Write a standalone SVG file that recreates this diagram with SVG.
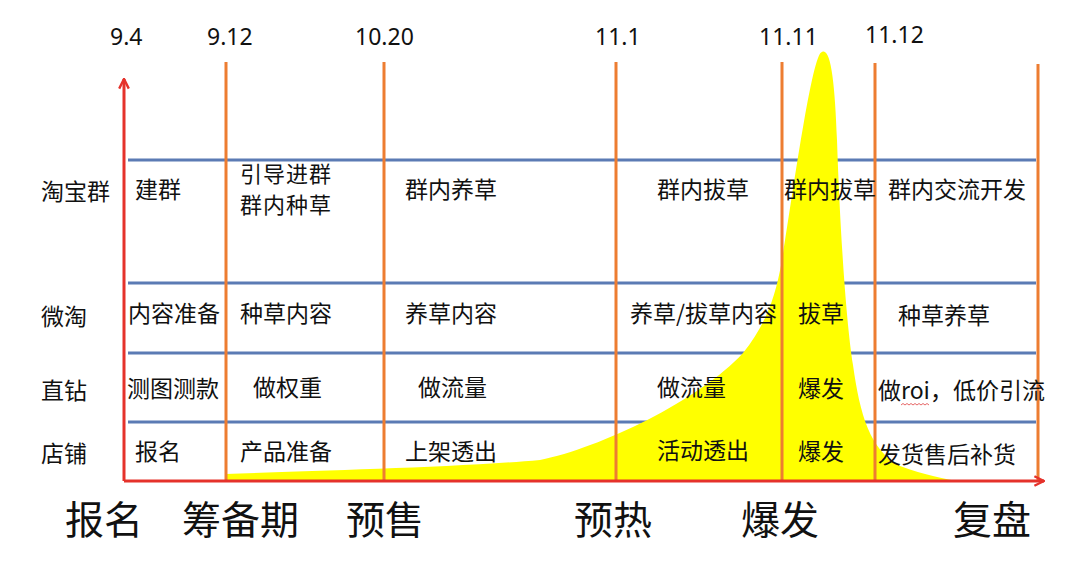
<svg xmlns="http://www.w3.org/2000/svg" width="1080" height="563" viewBox="0 0 1080 563">
<style>
.cjk{font-family:"Noto Sans CJK SC","Noto Sans",sans-serif;fill:#111}
.cell{font-size:23px}
.phase{font-size:39px}
.date{font-family:"Noto Sans","Noto Sans CJK SC",sans-serif;font-size:23px;fill:#111}
.blue{stroke:#5B7BB4;stroke-width:3;fill:none}
.orange{stroke:#ED7D31;stroke-width:3;fill:none}
.red{stroke:#E5322B;stroke-width:3;fill:none}
</style>
<defs>
<marker id="arr" viewBox="0 0 10 10" refX="9" refY="5" markerWidth="4" markerHeight="4" orient="auto" markerUnits="strokeWidth">
<path d="M1,1 L9,5 L1,9" fill="none" stroke="#E5322B" stroke-width="2"/>
</marker>
</defs>
<rect width="1080" height="563" fill="#fff"/>
<g id="rows">
<line class="blue" x1="128" y1="160" x2="1036" y2="160"/>
<line class="blue" x1="128" y1="283" x2="1036" y2="283"/>
<line class="blue" x1="128" y1="353" x2="1036" y2="353"/>
<line class="blue" x1="128" y1="422" x2="1036" y2="422"/>
</g>
<g id="curve">
<path fill="#FFFF00" d="M226,474 C300,471 450,468 540,460 C600,448 700,400 743,353 C765,325 775,300 782,260 C792,200 812,52 822,52 C831,47 835,85 837,140 C840,230 846,320 853,365 C860,415 870,450 900,466 C925,475 945,479 962,482 L226,481 Z"/>
</g>
<g id="phases">
<line class="orange" x1="226" y1="62" x2="226" y2="481"/>
<line class="orange" x1="384" y1="62" x2="384" y2="481"/>
<line class="orange" x1="616" y1="62" x2="616" y2="481"/>
<line class="orange" x1="782" y1="62" x2="782" y2="481"/>
<line class="orange" x1="875" y1="63" x2="875" y2="481"/>
<line class="orange" x1="1038" y1="64" x2="1038" y2="481"/>
</g>
<g id="connectors">
<line class="red" x1="124" y1="481" x2="124" y2="79" marker-end="url(#arr)"/>
<line class="red" x1="124" y1="481" x2="1044" y2="481" marker-end="url(#arr)"/>
</g>
<g id="dates">
<text class="date" x="110" y="45">9.4</text>
<text class="date" x="207" y="45">9.12</text>
<text class="date" x="355" y="45">10.20</text>
<text class="date" x="595" y="45">11.1</text>
<text class="date" x="759" y="45">11.11</text>
<text class="date" x="865" y="43">11.12</text>
</g>
<g id="row-labels" class="cjk cell">
<text x="41" y="200">淘宝群</text>
<text x="41" y="325">微淘</text>
<text x="41" y="399">直钻</text>
<text x="41" y="462">店铺</text>
</g>
<g id="row-taobao" class="cjk cell">
<text x="135" y="198">建群</text>
<text x="240" y="182" style="font-size:22px;letter-spacing:1px">引导进群<tspan x="240" dy="31">群内种草</tspan></text>
<text x="405" y="198">群内养草</text>
<text x="657" y="198">群内拔草</text>
<text x="784" y="198">群内拔草</text>
<text x="888" y="198">群内交流开发</text>
</g>
<g id="row-weitao" class="cjk cell">
<text x="128" y="322">内容准备</text>
<text x="240" y="322">种草内容</text>
<text x="405" y="322">养草内容</text>
<text x="630" y="322">养草/拔草内容</text>
<text x="798" y="322">拔草</text>
<text x="898" y="324">种草养草</text>
</g>
<g id="row-zhizuan" class="cjk cell">
<text x="127" y="397">测图测款</text>
<text x="253" y="396">做权重</text>
<text x="418" y="396">做流量</text>
<text x="657" y="396">做流量</text>
<text x="798" y="397">爆发</text>
<text x="878" y="399">做roi，低价引流</text>
<path d="M901,405 l2,-1.5 l2,1.5 l2,-1.5 l2,1.5 l2,-1.5 l2,1.5 l2,-1.5 l2,1.5 l2,-1.5 l2,1.5 l2,-1.5 l2,1.5 l2,-1.5 l2,1.5" fill="none" stroke="#E04040" stroke-width="0.8"/>
</g>
<g id="row-shop" class="cjk cell">
<text x="135" y="460">报名</text>
<text x="240" y="460">产品准备</text>
<text x="405" y="460">上架透出</text>
<text x="657" y="459">活动透出</text>
<text x="798" y="460">爆发</text>
<text x="878" y="463">发货售后补货</text>
</g>
<g id="phase-labels" class="cjk phase">
<text x="65" y="534">报名</text>
<text x="182" y="534">筹备期</text>
<text x="346" y="534">预售</text>
<text x="574" y="534">预热</text>
<text x="741" y="534">爆发</text>
<text x="953" y="534">复盘</text>
</g>
</svg>
